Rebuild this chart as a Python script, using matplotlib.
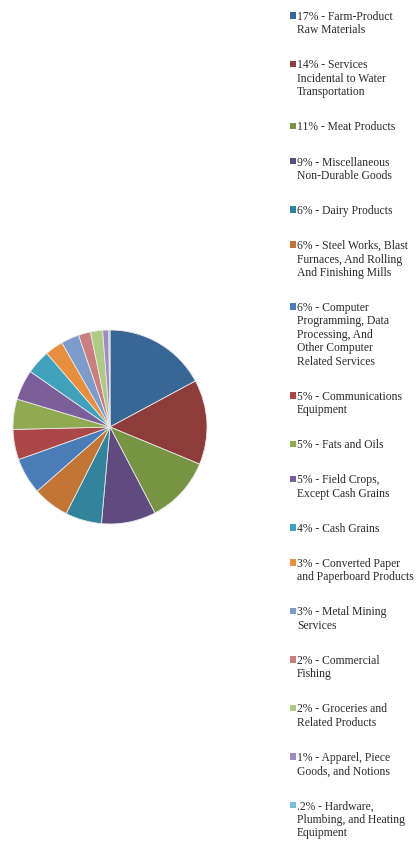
import matplotlib
matplotlib.use("Agg")
import matplotlib.pyplot as plt
from matplotlib.patches import Rectangle

categories = [
    "Farm-Product\nRaw Materials",
    "Services\nIncidental to Water\nTransportation",
    "Meat Products",
    "Miscellaneous\nNon-Durable Goods",
    "Dairy Products",
    "Steel Works, Blast\nFurnaces, And Rolling\nAnd Finishing Mills",
    "Computer\nProgramming, Data\nProcessing, And\nOther Computer\nRelated Services",
    "Communications\nEquipment",
    "Fats and Oils",
    "Field Crops,\nExcept Cash Grains",
    "Cash Grains",
    "Converted Paper\nand Paperboard Products",
    "Metal Mining\nServices",
    "Commercial\nFishing",
    "Groceries and\nRelated Products",
    "Apparel, Piece\nGoods, and Notions",
    "Hardware,\nPlumbing, and Heating\nEquipment",
]
pct_labels = ["17%", "14%", "11%", "9%", "6%", "6%", "6%", "5%", "5%", "5%",
              "4%", "3%", "3%", "2%", "2%", "1%", ".2%"]
shares = [17, 14, 11, 9, 6, 6, 6, 5, 5, 5, 4, 3, 3, 2, 2, 1, 0.2]
colors = ["#386695", "#8E3B3B", "#779445", "#5F4B7E", "#31849B", "#C27535",
          "#4A7CB7", "#AC4747", "#8FAA50", "#7A5F9A", "#3FA1BC", "#E88F3F",
          "#7E9CCB", "#CB7E7E", "#AECA86", "#9F8CBF", "#7AC0D4"]

W, H = 417, 842
fig = plt.figure(figsize=(W / 100, H / 100), dpi=100)

# pie: centre and radius in pixels
cx, cy, r = 110, 427, 97
ax = fig.add_axes([(cx - r) / W, (H - cy - r) / H, 2 * r / W, 2 * r / H])
ax.pie(shares, colors=colors, startangle=90, counterclock=False,
       wedgeprops=dict(edgecolor="#e8e8e8", linewidth=0.6))
ax.set_xlim(-1, 1)
ax.set_ylim(-1, 1)
ax.set_aspect("equal")

# legend drawn entry by entry
font = dict(family=["Liberation Serif", "DejaVu Serif"], size=8.4, color="#2b2b2b")
line_h = 13.45
gap = 21.6
sq = 6.4
x_sq = 289.5
x_txt = 297
baseline = 20.0
for label, pct, col in zip(categories, pct_labels, colors):
    lines = (pct + " - " + label).split("\n")
    fig.patches.append(Rectangle((x_sq / W, 1 - (baseline - 1.2) / H), sq / W, sq / H,
                                 transform=fig.transFigure, facecolor=col,
                                 edgecolor="none"))
    for i, ln in enumerate(lines):
        fig.text(x_txt / W, 1 - (baseline + i * line_h) / H, ln,
                 va="baseline", ha="left", **font)
    baseline += len(lines) * line_h + gap

fig.savefig("out.png", dpi=100, facecolor="white")
